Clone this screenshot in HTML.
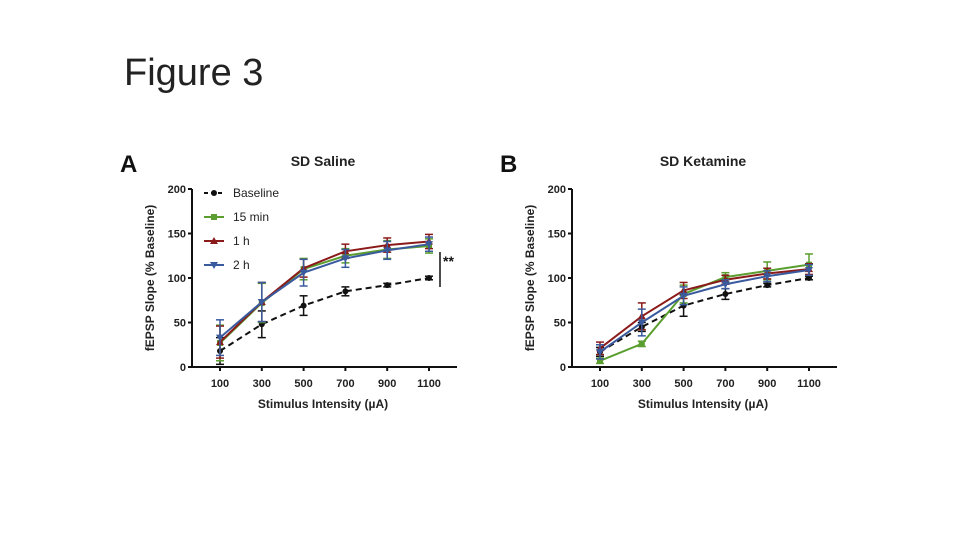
<!DOCTYPE html>
<html><head><meta charset="utf-8"><style>
body{margin:0;width:960px;height:540px;background:#fff;overflow:hidden;font-family:"Liberation Sans",sans-serif}
#title{position:absolute;left:124px;top:52px;font-size:38px;color:#222;font-weight:300}
svg{position:absolute;left:0;top:0}
</style></head><body>
<div id="title">Figure 3</div>
<svg id="s" width="960" height="540"></svg>
<script>
const categories=[100,300,500,700,900,1100];
const yTicks=[0,50,100,150,200];
const seriesNames=["Baseline","15 min","1 h","2 h"];
const colors=["#111","#5a9e2f","#8b1a1a","#3a5a9e"];
const aBaseline=[18,48,69,85,92,100], aBaselineErr=[15,15,11,5,2,2];
const a15=[27,72,110,125,132,136], a15Err=[20,22,12,8,10,8];
const a1h=[28,73,111,130,137,141], a1hErr=[18,22,10,8,8,8];
const a2h=[33,73,106,122,131,138], a2hErr=[20,22,15,10,10,8];
const bBaseline=[17,45,69,82,92,100], bBaselineErr=[5,5,12,6,2,2];
const b15=[7,26,82,101,108,115], b15Err=[3,3,10,5,10,12];
const b1h=[21,57,86,98,105,110], b1hErr=[7,15,9,5,6,6];
const b2h=[17,50,80,93,102,109], b2hErr=[8,15,10,5,6,6];

const svg=document.getElementById('s');const NS="http://www.w3.org/2000/svg";
function el(t,a,p){const e=document.createElementNS(NS,t);for(const k in a)e.setAttribute(k,a[k]);(p||svg).appendChild(e);return e;}
function marker(g,shape,x,y,c){
  if(shape===0)return el('circle',{cx:x,cy:y,r:3,fill:c},g);
  if(shape===1)return el('rect',{x:x-3,y:y-3,width:6,height:6,fill:c},g);
  if(shape===2)return el('polygon',{points:`${x},${y-4} ${x-4},${y+3} ${x+4},${y+3}`,fill:c},g);
  return el('polygon',{points:`${x},${y+4} ${x-4},${y-3} ${x+4},${y-3}`,fill:c},g);
}
function panel(ox,letter,title,series,errs,legend,sig){
  const x=v=>ox+28+(v-100)/1000*209, y=v=>367-v*0.89;
  const g=el('g',{});
  
  
  const L=el('text',{x:ox-72,y:172,'font-size':24,'font-weight':'bold',fill:'#111'},g);L.textContent=letter;
  
  const T=el('text',{x:ox+131,y:166,'font-size':14,'font-weight':'bold','text-anchor':'middle',fill:'#222'},g);T.textContent=title;
  
  el('line',{x1:ox,y1:189,x2:ox,y2:367,stroke:'#111','stroke-width':2},g);
  el('line',{x1:ox,y1:367,x2:ox+265,y2:367,stroke:'#111','stroke-width':2},g);
  yTicks.forEach(v=>{el('line',{x1:ox-4,y1:y(v),x2:ox,y2:y(v),stroke:'#111','stroke-width':2},g);
    const t=el('text',{x:ox-6,y:y(v)+4,'font-size':11,'font-weight':'bold','text-anchor':'end',fill:'#222'},g);t.textContent=v;
    });
  categories.forEach(c=>{el('line',{x1:x(c),y1:367,x2:x(c),y2:371,stroke:'#111','stroke-width':2},g);
    const t=el('text',{x:x(c),y:387,'font-size':11,'font-weight':'bold','text-anchor':'middle',fill:'#222'},g);t.textContent=c;
    });
  const xt=el('text',{x:ox+131,y:408,'font-size':12,'font-weight':'bold','text-anchor':'middle',fill:'#222'},g);xt.textContent='Stimulus Intensity (µA)';
  
  const yt=el('text',{x:0,y:0,'font-size':12,'font-weight':'bold','text-anchor':'middle',fill:'#222',transform:`translate(${ox-38},278) rotate(-90)`},g);yt.textContent='fEPSP Slope (% Baseline)';
  
  series.forEach((s,i)=>{
    const sg=el('g',{},g);
    
    
    el('polyline',{points:s.map((v,j)=>x(categories[j])+','+y(v)).join(' '),fill:'none',stroke:colors[i],'stroke-width':2,'stroke-dasharray':i===0?'6,4':'none'},sg);
    s.forEach((v,j)=>{const cx=x(categories[j]),e=errs[i][j];
      el('line',{x1:cx,y1:y(v+e),x2:cx,y2:y(v-e),stroke:colors[i],'stroke-width':1.5},sg);
      el('line',{x1:cx-4,y1:y(v+e),x2:cx+4,y2:y(v+e),stroke:colors[i],'stroke-width':1.5},sg);
      el('line',{x1:cx-4,y1:y(v-e),x2:cx+4,y2:y(v-e),stroke:colors[i],'stroke-width':1.5},sg);
      const m=marker(sg,i,cx,y(v),colors[i]);
      });
  });
  if(legend){seriesNames.forEach((n,i)=>{const ly=193+i*24;
    const lg=el('g',{},g);
    el('line',{x1:204,y1:ly,x2:224,y2:ly,stroke:colors[i],'stroke-width':2,'stroke-dasharray':i===0?'4,3':'none'},lg);
    marker(lg,i,214,ly,colors[i]);
    const t=el('text',{x:233,y:ly+4,'font-size':12,fill:'#222'},lg);t.textContent=n;});}
  if(sig){el('line',{x1:440,y1:252,x2:440,y2:287,stroke:'#111','stroke-width':1.5},g);
    const t=el('text',{x:443,y:266,'font-size':14,'font-weight':'bold',fill:'#111'},g);t.textContent='**';
    }
}
panel(192,'A','SD Saline',[aBaseline,a15,a1h,a2h],[aBaselineErr,a15Err,a1hErr,a2hErr],true,true);
panel(572,'B','SD Ketamine',[bBaseline,b15,b1h,b2h],[bBaselineErr,b15Err,b1hErr,b2hErr],false,false);
</script>
</body></html>
